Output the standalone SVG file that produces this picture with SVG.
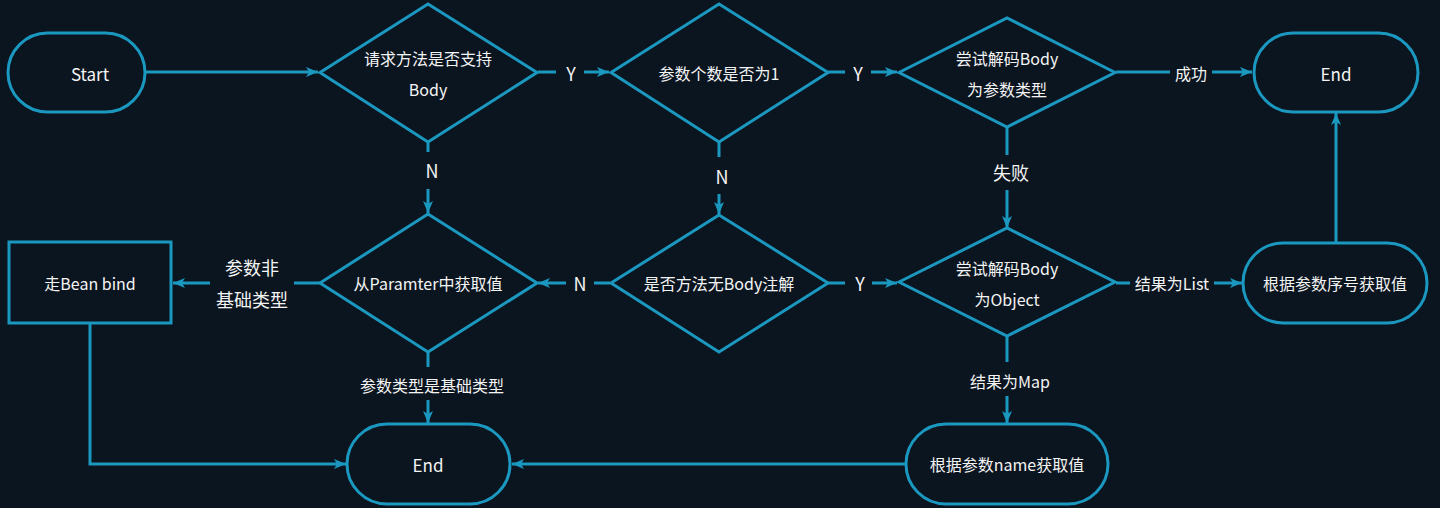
<svg xmlns="http://www.w3.org/2000/svg" width="1440" height="508" viewBox="0 0 1440 508">
<defs>
<marker id="ah" viewBox="0 0 12 10" refX="12" refY="5" markerWidth="12" markerHeight="10" markerUnits="userSpaceOnUse" orient="auto">
<path d="M0,0 L12,5 L0,10 L3,5 Z" fill="#1b98c0"/>
</marker>
<style>
.n{fill:#0b1520;stroke:#1b98c0;stroke-width:3}
.c{fill:none;stroke:#1b98c0;stroke-width:3}
.a{marker-end:url(#ah)}
text{font-family:"Noto Sans CJK SC","Noto Sans",sans-serif;fill:#f4f4f4;text-anchor:middle;dominant-baseline:central}
.t{font-size:16px}
.l{font-size:18px}
.s{font-size:17px}
</style>
</defs>
<rect width="1440" height="508" fill="#0b1520"/>
<g id="connectors">
<line class="c a" x1="146" y1="72" x2="318" y2="72"/>
<line class="c" x1="538" y1="72" x2="556" y2="72"/>
<line class="c a" x1="584" y1="72" x2="609" y2="72"/>
<line class="c" x1="828" y1="72" x2="845" y2="72"/>
<line class="c a" x1="871" y1="72" x2="897" y2="72"/>
<line class="c" x1="1116" y1="72" x2="1170" y2="72"/>
<line class="c a" x1="1212" y1="72" x2="1252" y2="72"/>
<line class="c" x1="428" y1="142" x2="428" y2="152"/>
<line class="c a" x1="428" y1="189" x2="428" y2="213"/>
<line class="c" x1="719" y1="142" x2="719" y2="157"/>
<line class="c a" x1="719" y1="194" x2="719" y2="214"/>
<line class="c" x1="1007" y1="127" x2="1007" y2="155"/>
<line class="c a" x1="1007" y1="190" x2="1007" y2="228"/>
<line class="c" x1="610" y1="283" x2="594" y2="283"/>
<line class="c a" x1="566" y1="283" x2="538" y2="283"/>
<line class="c" x1="828" y1="283" x2="845" y2="283"/>
<line class="c a" x1="872" y1="283" x2="897" y2="283"/>
<line class="c" x1="1116" y1="283" x2="1130" y2="283"/>
<line class="c a" x1="1214" y1="283" x2="1242" y2="283"/>
<line class="c a" x1="1336" y1="243" x2="1336" y2="113"/>
<line class="c" x1="320" y1="283" x2="294" y2="283"/>
<line class="c a" x1="210" y1="283" x2="173" y2="283"/>
<line class="c" x1="428" y1="352" x2="428" y2="367"/>
<line class="c a" x1="428" y1="400" x2="428" y2="423"/>
<line class="c" x1="1007" y1="336" x2="1007" y2="362"/>
<line class="c a" x1="1007" y1="396" x2="1007" y2="423"/>
<polyline class="c a" points="90,323 90,464 346,464"/>
<line class="c a" x1="906" y1="464" x2="512" y2="464"/>
<text class="l" x="571" y="73">Y</text>
<text class="l" x="858" y="73">Y</text>
<text class="t" x="1191" y="73">成功</text>
<text class="l" x="432" y="170">N</text>
<text class="l" x="722" y="176">N</text>
<text class="l" x="1011" y="172">失败</text>
<text class="l" x="580" y="283">N</text>
<text class="l" x="860" y="283">Y</text>
<text class="t" x="1172" y="283">结果为List</text>
<text class="l" x="252" y="267">参数非</text>
<text class="l" x="252" y="299">基础类型</text>
<text class="t" x="432" y="385">参数类型是基础类型</text>
<text class="t" x="1010" y="381">结果为Map</text>
</g>
<g id="start">
<rect class="n" x="8" y="33" width="137" height="79" rx="39.5"/>
<text class="s" x="90" y="73">Start</text>
</g>
<g id="d-support-body">
<polygon class="n" points="320,72.5 428,4 537,72.5 428,142"/>
<text class="t" x="428" y="58">请求方法是否支持</text>
<text class="t" x="428" y="89">Body</text>
</g>
<g id="d-param-count">
<polygon class="n" points="611,72.5 719,4 828,72.5 719,142"/>
<text class="t" x="719" y="73">参数个数是否为1</text>
</g>
<g id="d-decode-type">
<polygon class="n" points="899,72.5 1007,18 1115,72.5 1007,127"/>
<text class="t" x="1007" y="58">尝试解码Body</text>
<text class="t" x="1007" y="89">为参数类型</text>
</g>
<g id="end-top">
<rect class="n" x="1254" y="33" width="164" height="79" rx="39.5"/>
<text class="s" x="1336" y="73">End</text>
</g>
<g id="bean-bind">
<rect class="n" x="9" y="242" width="162" height="81"/>
<text class="t" x="90" y="283">走Bean bind</text>
</g>
<g id="d-from-param">
<polygon class="n" points="320,283 428,214 537,283 428,352"/>
<text class="t" x="428" y="283">从Paramter中获取值</text>
</g>
<g id="d-no-body-anno">
<polygon class="n" points="611,283 719,215 828,283 719,352"/>
<text class="t" x="719" y="283">是否方法无Body注解</text>
</g>
<g id="d-decode-object">
<polygon class="n" points="899,282 1007,228 1115,282 1007,336"/>
<text class="t" x="1007" y="268">尝试解码Body</text>
<text class="t" x="1007" y="299">为Object</text>
</g>
<g id="by-index">
<rect class="n" x="1243" y="243" width="184" height="80" rx="40"/>
<text class="t" x="1335" y="283">根据参数序号获取值</text>
</g>
<g id="by-name">
<rect class="n" x="906" y="424" width="202" height="80" rx="40"/>
<text class="t" x="1007" y="464">根据参数name获取值</text>
</g>
<g id="end-bottom">
<rect class="n" x="347" y="424" width="163" height="80" rx="40"/>
<text class="s" x="428" y="464">End</text>
</g>
</svg>
